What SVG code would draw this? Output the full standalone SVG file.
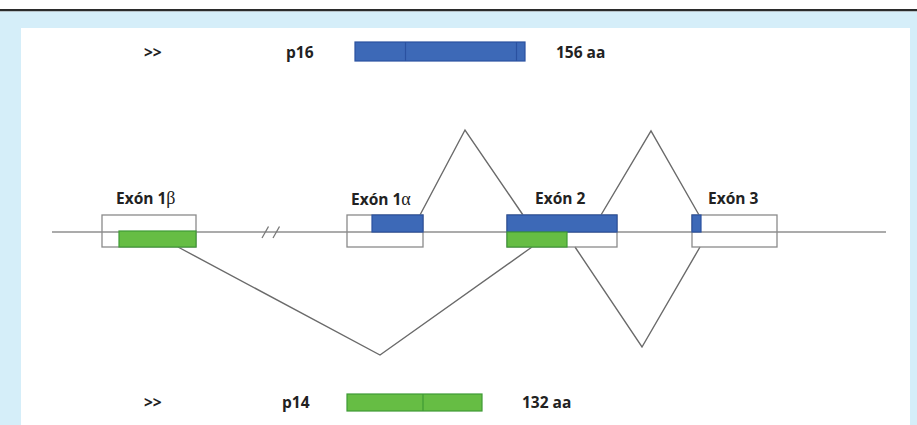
<svg xmlns="http://www.w3.org/2000/svg" width="917" height="425" viewBox="0 0 917 425">
<defs>
<style>
.lbl{font-family:"Open Sans","Liberation Sans",sans-serif;font-weight:bold;font-size:15.5px;fill:#222}
.greek{font-family:"Liberation Serif",serif;font-weight:normal;font-size:18px}
.box{fill:none;stroke:#8a8a8a;stroke-width:1.3}
.blue{fill:#3d69b7;stroke:#2a51a0;stroke-width:1.2}
.green{fill:#66bd44;stroke:#3e9a35;stroke-width:1.2}
.sp{fill:none;stroke:#6a6a6a;stroke-width:1.4}
</style>
</defs>
<rect x="0" y="0" width="917" height="425" fill="#ffffff"/>
<rect x="0" y="9" width="917" height="2.5" fill="#2b2b2b"/>
<rect x="0" y="11.5" width="917" height="413.5" fill="#d5eef9"/>
<rect x="21" y="28" width="889" height="397" fill="#ffffff"/>

<g id="p16">
<text class="lbl" x="144" y="58">&gt;&gt;</text>
<text class="lbl" x="286" y="58">p16</text>
<rect class="blue" x="355" y="42" width="170" height="19"/>
<line x1="405.5" y1="42" x2="405.5" y2="61" stroke="#2a51a0" stroke-width="1.2"/>
<line x1="516.5" y1="42" x2="516.5" y2="61" stroke="#2a51a0" stroke-width="1.2"/>
<text class="lbl" x="556" y="58">156 aa</text>
</g>

<g id="connectors">
<line x1="52" y1="232" x2="886" y2="232" stroke="#8f8f8f" stroke-width="1.6"/>
<line x1="262" y1="238" x2="268.5" y2="226.5" stroke="#777" stroke-width="1.3"/>
<line x1="273" y1="238" x2="279.5" y2="226.5" stroke="#777" stroke-width="1.3"/>
<polyline class="sp" points="420,215 465,130 523,215"/>
<polyline class="sp" points="601,215 651,131 699,215"/>
<polyline class="sp" points="178,247 380,355 532,247"/>
<polyline class="sp" points="575,247 642,347 700,247"/>
</g>

<g id="exon1b">
<rect class="box" x="102" y="215" width="94" height="32"/>
<rect class="green" x="119" y="231" width="77" height="16"/>
<text class="lbl" x="116" y="204">Exón 1<tspan class="greek">β</tspan></text>
</g>

<g id="exon1a">
<rect class="box" x="347" y="215" width="76" height="32"/>
<rect class="blue" x="372" y="215" width="51" height="17"/>
<text class="lbl" x="351" y="205">Exón 1<tspan class="greek">α</tspan></text>
</g>

<g id="exon2">
<rect class="box" x="507" y="215" width="110" height="32"/>
<rect class="blue" x="507" y="215" width="110" height="17"/>
<rect class="green" x="507" y="232" width="60" height="15"/>
<text class="lbl" x="535" y="204">Exón 2</text>
</g>

<g id="exon3">
<rect class="box" x="692" y="215" width="85" height="32"/>
<rect class="blue" x="692" y="215" width="9" height="17"/>
<text class="lbl" x="708" y="204">Exón 3</text>
</g>

<g id="p14">
<text class="lbl" x="144" y="408">&gt;&gt;</text>
<text class="lbl" x="282" y="408">p14</text>
<rect class="green" x="347" y="394" width="135" height="17"/>
<line x1="423" y1="394" x2="423" y2="411" stroke="#3e9a35" stroke-width="1.2"/>
<text class="lbl" x="522" y="408">132 aa</text>
</g>
</svg>
